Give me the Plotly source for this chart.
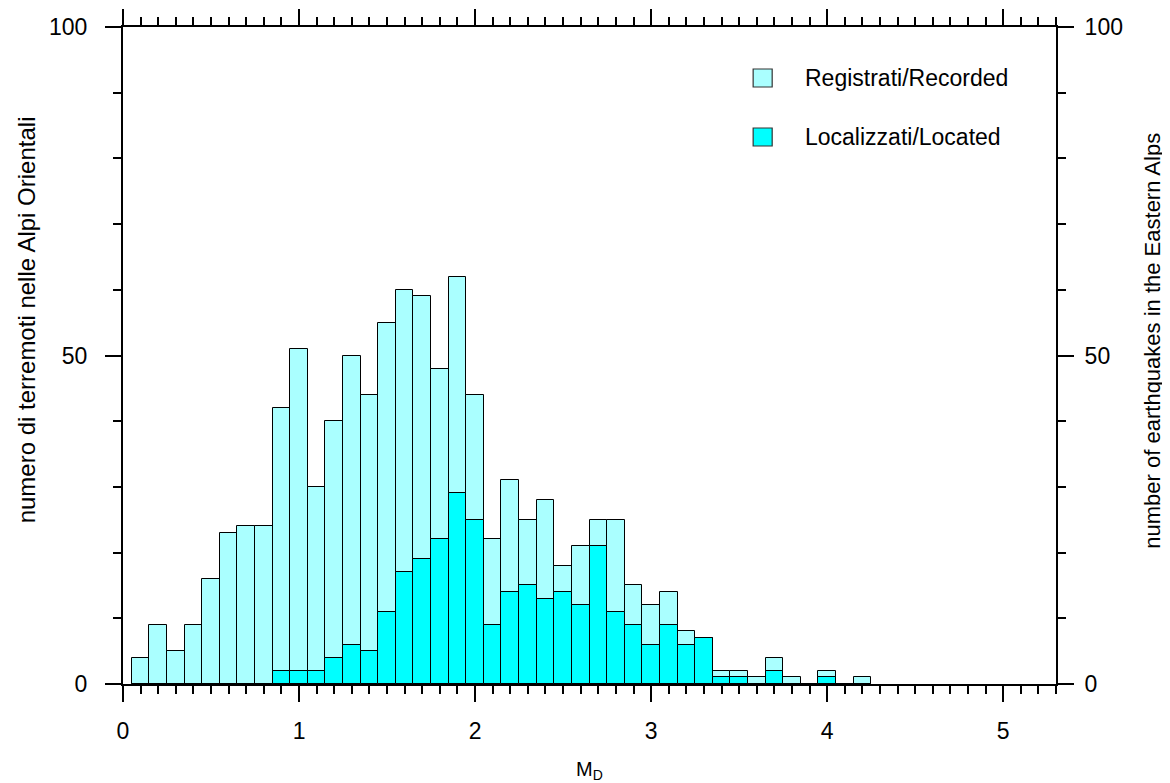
import plotly.graph_objects as go

# ---- data ----
magnitude = [round(0.1 * i, 1) for i in range(1, 43)]  # bin centres 0.1 .. 4.2
recorded = [4, 9, 5, 9, 16, 23, 24, 24, 42, 51,
            30, 40, 50, 44, 55, 60, 59, 48, 62, 44,
            22, 31, 25, 28, 18, 21, 25, 25, 15, 12,
            14, 8, 7, 2, 2, 1, 4, 1, 0, 2,
            0, 1]
located = [0, 0, 0, 0, 0, 0, 0, 0, 2, 2,
           2, 4, 6, 5, 11, 17, 19, 22, 29, 25,
           9, 14, 15, 13, 14, 12, 21, 11, 9, 6,
           9, 6, 7, 1, 1, 0, 2, 0, 0, 1,
           0, 0]
series_names = ["Registrati/Recorded", "Localizzati/Located"]
series_colors = ["#aaffff", "#00ffff"]
x_title = "M<sub>D</sub>"
y_title_left = "numero di terremoti nelle Alpi Orientali"
y_title_right = "number of earthquakes in the Eastern Alps"

FONT = "Arial, Liberation Sans, Helvetica, sans-serif"

fig = go.Figure()
for name, vals, col in zip(series_names, [recorded, located], series_colors):
    fig.add_trace(go.Bar(x=magnitude, y=vals, width=0.1, name=name,
                         marker=dict(color=col, line=dict(color="#000000", width=1)),
                         showlegend=False))
# empty trace to anchor the mirrored axes
fig.add_trace(go.Scatter(x=[None], y=[None], xaxis="x2", yaxis="y2", showlegend=False))

tickcommon = dict(ticks="outside", ticklen=16, tickwidth=1.5, tickcolor="black",
                  showline=True, linecolor="black", linewidth=2,
                  showgrid=False, zeroline=False, automargin=False,
                  tickfont=dict(family=FONT, size=23, color="black"))

# page body has an 8px margin; figure size compensates for it
fig.update_layout(
    width=1162, height=775,
    margin=dict(l=115, r=114, t=19, b=99),
    paper_bgcolor="white", plot_bgcolor="white",
    barmode="overlay", bargap=0,
    font=dict(family=FONT, size=23, color="black"),
    xaxis=dict(range=[0, 5.3], tickmode="linear", tick0=0, dtick=1,
               minor=dict(ticks="outside", ticklen=8, tickwidth=1.5, tickcolor="black",
                          dtick=0.1, tick0=0, showgrid=False),
               title=dict(text=x_title, font=dict(size=20), standoff=22),
               ticklabelstandoff=9, **tickcommon),
    xaxis2=dict(range=[0, 5.3], overlaying="x", side="top", matches="x",
                tickmode="linear", tick0=0, dtick=1, showticklabels=False,
                minor=dict(ticks="outside", ticklen=8, tickwidth=1.5, tickcolor="black",
                           dtick=0.1, tick0=0, showgrid=False),
                anchor="y", **tickcommon),
    yaxis=dict(range=[0, 100], tickmode="linear", tick0=0, dtick=50,
               minor=dict(ticks="outside", ticklen=8, tickwidth=1.5, tickcolor="black",
                          dtick=10, tick0=0, showgrid=False),
               ticklabelstandoff=13, **tickcommon),
    yaxis2=dict(range=[0, 100], overlaying="y", side="right", anchor="x",
                tickmode="linear", tick0=0, dtick=50,
                minor=dict(ticks="outside", ticklen=8, tickwidth=1.5, tickcolor="black",
                           dtick=10, tick0=0, showgrid=False),
                ticklabelstandoff=6, **tickcommon),
)

# vertical axis titles as rotated annotations
fig.add_annotation(x=-0.1036, y=0.554, xref="paper", yref="paper", text=y_title_left,
                   textangle=-90, showarrow=False, xanchor="center", yanchor="middle",
                   font=dict(family=FONT, size=24, color="black"))
fig.add_annotation(x=1.1025, y=0.522, xref="paper", yref="paper", text=y_title_right,
                   textangle=-90, showarrow=False, xanchor="center", yanchor="middle",
                   font=dict(family=FONT, size=22, color="black"))

# manual legend (paper coordinates)
leg_y = [0.9224, 0.8326]
for name, col, yc in zip(series_names, series_colors, leg_y):
    fig.add_shape(type="rect", xref="paper", yref="paper",
                  x0=0.6754, x1=0.6958, y0=yc - 0.0137, y1=yc + 0.0137,
                  fillcolor=col, line=dict(color="#333333", width=1.2))
    fig.add_annotation(x=0.7285, y=yc, xref="paper", yref="paper", text=name,
                       showarrow=False, xanchor="left", yanchor="middle",
                       font=dict(family=FONT, size=23, color="black"))

fig.write_html("out.html")
